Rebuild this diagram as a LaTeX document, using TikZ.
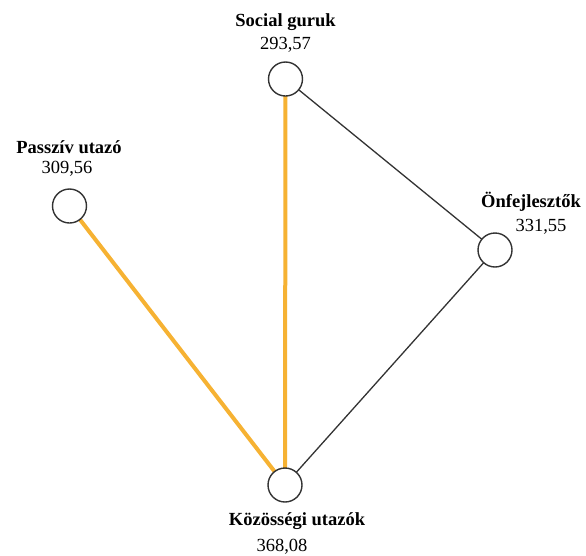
\documentclass[tikz,border=0pt]{standalone}
\usepackage{fontspec}
\setmainfont{Liberation Serif}
\definecolor{hiline}{RGB}{246,178,51}
\definecolor{darkline}{RGB}{51,51,51}
\begin{document}
\begin{tikzpicture}[x=1pt,y=-1pt,
  vert/.style={circle,draw=darkline,line width=1.4pt,fill=white,minimum size=34pt,inner sep=0pt},
  titletext/.style={font=\fontsize{18.5}{20}\selectfont\bfseries,inner sep=0pt,anchor=center},
  numtext/.style={font=\fontsize{18.5}{20}\selectfont,inner sep=0pt,anchor=center},
  hiedge/.style={draw=hiline,line width=4pt},
  plainedge/.style={draw=darkline,line width=1.3pt}]
\useasboundingbox (0,0) rectangle (586,555);
% vertex positions
\coordinate (sg) at (285.5,79);
\coordinate (pu) at (69.5,206);
\coordinate (on) at (495,250);
\coordinate (ku) at (285,485);
% edges
\draw[hiedge] (pu) -- (ku);
\draw[hiedge] (sg) -- (ku);
\draw[plainedge] (sg) -- (on);
\draw[plainedge] (on) -- (ku);
% vertices
\node[vert] (nsg) at (sg) {};
\node[vert] (npu) at (pu) {};
\node[vert] (non) at (on) {};
\node[vert] (nku) at (ku) {};
% labels
\node[titletext] (tsg) at (285.5,22) {Social guruk};
\node[numtext] (vsg) at (285.5,45) {293,57};
\node[titletext] (tpu) at (69,147) {Passzív utazó};
\node[numtext] (vpu) at (67,169) {309,56};
\node[titletext] (ton) at (531,202) {Önfejlesztők};
\node[numtext] (von) at (541,227) {331,55};
\node[titletext] (tku) at (297,521) {Közösségi utazók};
\node[numtext] (vku) at (282,547) {368,08};
\end{tikzpicture}
\end{document}
